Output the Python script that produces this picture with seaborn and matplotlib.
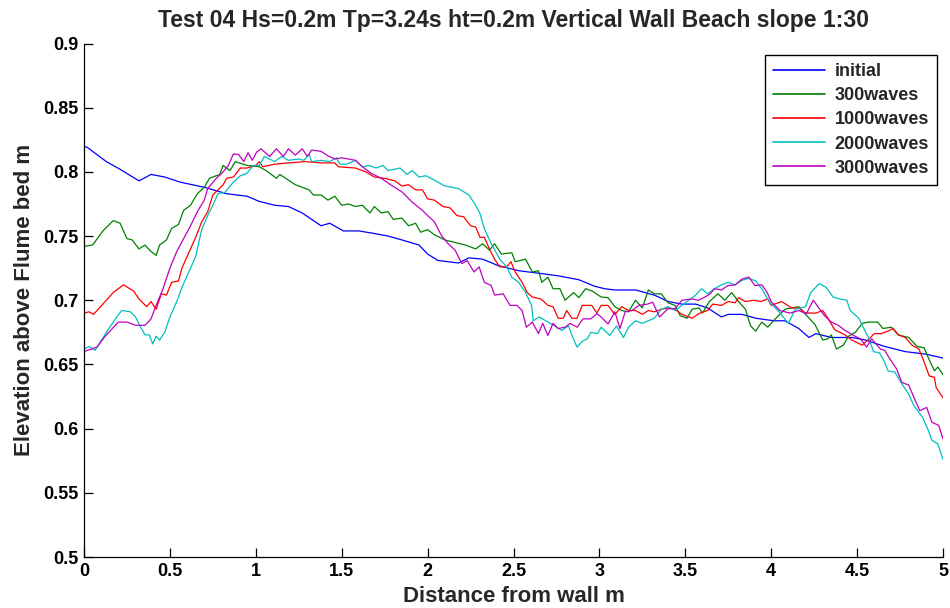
import matplotlib
matplotlib.use("Agg")
import matplotlib.pyplot as plt
import pandas as pd
import seaborn as sns

# ---------------- data ----------------
series_names = ["initial", "300waves", "1000waves", "2000waves", "3000waves"]
series_colors = ["#0000ff", "#008000", "#ff0000", "#00bfbf", "#bf00bf"]

x_ticks = [0, 0.5, 1, 1.5, 2, 2.5, 3, 3.5, 4, 4.5, 5]
x_tick_labels = ["0", "0.5", "1", "1.5", "2", "2.5", "3", "3.5", "4", "4.5", "5"]
y_ticks = [0.5, 0.55, 0.6, 0.65, 0.7, 0.75, 0.8, 0.85, 0.9]
y_tick_labels = ["0.5", "0.55", "0.6", "0.65", "0.7", "0.75", "0.8", "0.85", "0.9"]

initial_pts = [
    (0.00, 0.820), (0.02, 0.819), (0.13, 0.808), (0.21, 0.802), (0.32, 0.793),
    (0.39, 0.798), (0.47, 0.796), (0.56, 0.792), (0.70, 0.788), (0.83, 0.783),
    (0.95, 0.781), (1.02, 0.777), (1.11, 0.774), (1.19, 0.773), (1.27, 0.768),
    (1.38, 0.758), (1.43, 0.760), (1.51, 0.754), (1.60, 0.754), (1.69, 0.752),
    (1.77, 0.750), (1.85, 0.747), (1.95, 0.743), (2.00, 0.736), (2.06, 0.731),
    (2.18, 0.729), (2.24, 0.733), (2.32, 0.732), (2.41, 0.727), (2.53, 0.723),
    (2.65, 0.721), (2.76, 0.719), (2.88, 0.716), (2.97, 0.711), (3.03, 0.709),
    (3.09, 0.708), (3.21, 0.708), (3.32, 0.704), (3.40, 0.699), (3.48, 0.697),
    (3.56, 0.697), (3.63, 0.694), (3.71, 0.687), (3.75, 0.689), (3.83, 0.689),
    (3.91, 0.686), (3.96, 0.685), (4.02, 0.684), (4.08, 0.684), (4.16, 0.678),
    (4.22, 0.671), (4.26, 0.674), (4.35, 0.671), (4.47, 0.671), (4.55, 0.669),
    (4.66, 0.664), (4.78, 0.660), (4.90, 0.658), (5.00, 0.655),
]

waves300_pts = [
    (0.00, 0.742), (0.05, 0.743), (0.11, 0.754), (0.17, 0.762), (0.21, 0.760),
    (0.25, 0.748), (0.28, 0.747), (0.32, 0.740), (0.355, 0.743), (0.39, 0.738),
    (0.42, 0.735), (0.44, 0.743), (0.48, 0.747), (0.51, 0.756), (0.55, 0.759),
    (0.58, 0.770), (0.62, 0.774), (0.66, 0.783), (0.70, 0.788), (0.73, 0.795),
    (0.79, 0.798), (0.81, 0.805), (0.85, 0.801), (0.88, 0.808), (0.95, 0.805),
    (1.02, 0.804), (1.06, 0.801), (1.12, 0.795), (1.14, 0.798), (1.23, 0.790),
    (1.31, 0.786), (1.335, 0.782), (1.38, 0.782), (1.42, 0.778), (1.46, 0.781),
    (1.50, 0.774), (1.54, 0.775), (1.58, 0.773), (1.62, 0.774), (1.665, 0.768),
    (1.69, 0.773), (1.73, 0.768), (1.77, 0.769), (1.80, 0.763), (1.85, 0.764),
    (1.89, 0.758), (1.93, 0.760), (1.96, 0.753), (2.00, 0.755), (2.04, 0.751),
    (2.10, 0.747), (2.16, 0.745), (2.22, 0.743), (2.28, 0.740), (2.32, 0.744),
    (2.36, 0.739), (2.39, 0.744), (2.43, 0.736), (2.49, 0.737), (2.51, 0.730),
    (2.57, 0.732), (2.61, 0.722), (2.645, 0.723), (2.665, 0.714), (2.70, 0.718),
    (2.73, 0.709), (2.77, 0.709), (2.80, 0.700), (2.85, 0.706), (2.88, 0.702),
    (2.92, 0.709), (2.96, 0.707), (3.01, 0.7025), (3.05, 0.702), (3.09, 0.695),
    (3.13, 0.692), (3.17, 0.691), (3.21, 0.700), (3.25, 0.694), (3.285, 0.708),
    (3.32, 0.705), (3.36, 0.705), (3.40, 0.698), (3.44, 0.696), (3.47, 0.688),
    (3.51, 0.686), (3.54, 0.693), (3.58, 0.694), (3.60, 0.690), (3.64, 0.699),
    (3.69, 0.705), (3.73, 0.700), (3.77, 0.706), (3.81, 0.699), (3.85, 0.693),
    (3.88, 0.680), (3.91, 0.676), (3.945, 0.683), (3.98, 0.679), (4.02, 0.685),
    (4.08, 0.693), (4.12, 0.694), (4.16, 0.695), (4.20, 0.689), (4.255, 0.681),
    (4.30, 0.669), (4.33, 0.670), (4.35, 0.673), (4.38, 0.662), (4.42, 0.665),
    (4.45, 0.672), (4.49, 0.675), (4.53, 0.682), (4.565, 0.683), (4.62, 0.683),
    (4.65, 0.678), (4.70, 0.679), (4.74, 0.673), (4.80, 0.671), (4.85, 0.664),
    (4.89, 0.663), (4.915, 0.655), (4.95, 0.645), (4.97, 0.648), (5.00, 0.642),
]

waves1000_pts = [
    (0.00, 0.690), (0.03, 0.691), (0.055, 0.689), (0.11, 0.697), (0.17, 0.706),
    (0.23, 0.712), (0.29, 0.707), (0.32, 0.701), (0.365, 0.695), (0.39, 0.699),
    (0.42, 0.693), (0.45, 0.705), (0.48, 0.704), (0.51, 0.714), (0.55, 0.715),
    (0.57, 0.725), (0.61, 0.737), (0.65, 0.749), (0.685, 0.761), (0.72, 0.769),
    (0.75, 0.782), (0.78, 0.786), (0.81, 0.790), (0.83, 0.795), (0.87, 0.796),
    (0.91, 0.803), (0.95, 0.803), (1.00, 0.805), (1.02, 0.808), (1.04, 0.804),
    (1.11, 0.806), (1.19, 0.807), (1.29, 0.808), (1.38, 0.807), (1.46, 0.807),
    (1.48, 0.804), (1.58, 0.803), (1.64, 0.800), (1.69, 0.796), (1.75, 0.795),
    (1.81, 0.793), (1.85, 0.789), (1.89, 0.790), (1.93, 0.786), (1.97, 0.786),
    (2.00, 0.779), (2.04, 0.778), (2.09, 0.773), (2.13, 0.772), (2.17, 0.766),
    (2.21, 0.765), (2.25, 0.758), (2.28, 0.757), (2.305, 0.749), (2.33, 0.749),
    (2.36, 0.740), (2.39, 0.732), (2.42, 0.726), (2.46, 0.726), (2.485, 0.730),
    (2.51, 0.722), (2.55, 0.714), (2.58, 0.706), (2.61, 0.7025), (2.66, 0.701),
    (2.70, 0.696), (2.73, 0.695), (2.76, 0.686), (2.79, 0.686), (2.81, 0.692),
    (2.84, 0.686), (2.87, 0.686), (2.90, 0.696), (2.955, 0.696), (2.985, 0.690),
    (3.01, 0.696), (3.05, 0.696), (3.09, 0.689), (3.13, 0.695), (3.17, 0.692),
    (3.21, 0.692), (3.25, 0.689), (3.285, 0.692), (3.32, 0.691), (3.36, 0.693),
    (3.40, 0.694), (3.44, 0.693), (3.48, 0.689), (3.54, 0.686), (3.585, 0.690),
    (3.63, 0.692), (3.66, 0.697), (3.71, 0.696), (3.75, 0.699), (3.79, 0.698),
    (3.81, 0.702), (3.85, 0.699), (3.90, 0.700), (3.94, 0.699), (3.98, 0.701),
    (4.00, 0.696), (4.06, 0.699), (4.12, 0.694), (4.16, 0.694), (4.20, 0.690),
    (4.26, 0.690), (4.30, 0.692), (4.33, 0.686), (4.37, 0.677), (4.43, 0.673),
    (4.47, 0.669), (4.53, 0.665), (4.57, 0.670), (4.60, 0.674), (4.64, 0.674),
    (4.68, 0.676), (4.71, 0.678), (4.74, 0.673), (4.78, 0.671), (4.82, 0.665),
    (4.86, 0.662), (4.89, 0.652), (4.92, 0.641), (4.95, 0.640), (4.96, 0.632),
    (5.00, 0.624),
]

waves2000_pts = [
    (0.00, 0.662), (0.03, 0.664), (0.065, 0.661), (0.13, 0.675), (0.19, 0.687),
    (0.22, 0.692), (0.27, 0.691), (0.30, 0.687), (0.33, 0.679), (0.355, 0.673),
    (0.38, 0.673), (0.40, 0.666), (0.42, 0.672), (0.44, 0.669), (0.47, 0.675),
    (0.50, 0.687), (0.54, 0.699), (0.57, 0.710), (0.61, 0.722), (0.65, 0.734),
    (0.685, 0.755), (0.72, 0.766), (0.75, 0.774), (0.78, 0.783), (0.82, 0.784),
    (0.87, 0.792), (0.91, 0.797), (0.95, 0.799), (0.985, 0.805), (1.02, 0.805),
    (1.05, 0.812), (1.11, 0.808), (1.15, 0.812), (1.19, 0.809), (1.25, 0.810),
    (1.28, 0.809), (1.31, 0.814), (1.325, 0.808), (1.38, 0.809), (1.43, 0.808),
    (1.47, 0.811), (1.49, 0.806), (1.53, 0.806), (1.58, 0.809), (1.62, 0.804),
    (1.66, 0.805), (1.70, 0.803), (1.74, 0.805), (1.77, 0.801), (1.84, 0.803),
    (1.88, 0.798), (1.91, 0.801), (1.95, 0.796), (1.99, 0.797), (2.04, 0.7935),
    (2.10, 0.789), (2.18, 0.787), (2.24, 0.782), (2.28, 0.774), (2.305, 0.7675),
    (2.33, 0.756), (2.37, 0.744), (2.42, 0.732), (2.46, 0.726), (2.49, 0.718),
    (2.53, 0.714), (2.57, 0.706), (2.605, 0.696), (2.615, 0.684), (2.65, 0.687),
    (2.70, 0.683), (2.74, 0.680), (2.78, 0.6765), (2.82, 0.680), (2.84, 0.6726),
    (2.87, 0.6635), (2.90, 0.668), (2.93, 0.670), (2.95, 0.675), (2.99, 0.674),
    (3.01, 0.679), (3.06, 0.6726), (3.10, 0.680), (3.14, 0.671), (3.17, 0.679),
    (3.21, 0.684), (3.25, 0.682), (3.285, 0.684), (3.32, 0.686), (3.36, 0.693),
    (3.40, 0.695), (3.44, 0.692), (3.48, 0.696), (3.52, 0.700), (3.56, 0.704),
    (3.595, 0.709), (3.63, 0.705), (3.67, 0.709), (3.71, 0.712), (3.75, 0.714),
    (3.79, 0.712), (3.83, 0.7155), (3.87, 0.717), (3.91, 0.715), (3.945, 0.709),
    (3.98, 0.701), (4.00, 0.697), (4.04, 0.692), (4.10, 0.682), (4.14, 0.693),
    (4.20, 0.695), (4.23, 0.706), (4.28, 0.713), (4.32, 0.710), (4.36, 0.7025),
    (4.40, 0.701), (4.44, 0.700), (4.46, 0.692), (4.51, 0.686), (4.55, 0.675),
    (4.57, 0.670), (4.595, 0.660), (4.63, 0.659), (4.66, 0.652), (4.68, 0.645),
    (4.72, 0.644), (4.76, 0.635), (4.80, 0.627), (4.83, 0.618), (4.88, 0.609),
    (4.915, 0.5985), (4.935, 0.591), (4.97, 0.588), (5.00, 0.576),
]

waves3000_pts = [
    (0.00, 0.660), (0.02, 0.661), (0.075, 0.6635), (0.13, 0.673), (0.20, 0.683),
    (0.25, 0.683), (0.30, 0.6805), (0.355, 0.6805), (0.39, 0.6855), (0.42, 0.696),
    (0.46, 0.709), (0.50, 0.725), (0.54, 0.738), (0.58, 0.748), (0.62, 0.758),
    (0.66, 0.769), (0.70, 0.778), (0.72, 0.787), (0.77, 0.795), (0.81, 0.800),
    (0.84, 0.805), (0.87, 0.814), (0.90, 0.8135), (0.93, 0.808), (0.955, 0.815),
    (0.98, 0.809), (1.005, 0.8155), (1.03, 0.818), (1.08, 0.812), (1.12, 0.818),
    (1.16, 0.812), (1.19, 0.818), (1.23, 0.813), (1.27, 0.818), (1.30, 0.812),
    (1.325, 0.817), (1.38, 0.816), (1.42, 0.8125), (1.46, 0.810), (1.50, 0.811),
    (1.54, 0.810), (1.58, 0.809), (1.62, 0.804), (1.67, 0.799), (1.73, 0.795),
    (1.79, 0.7895), (1.85, 0.7845), (1.91, 0.7765), (1.97, 0.770), (2.00, 0.766),
    (2.04, 0.761), (2.08, 0.7505), (2.12, 0.744), (2.16, 0.739), (2.20, 0.7285),
    (2.23, 0.731), (2.27, 0.722), (2.30, 0.726), (2.33, 0.714), (2.37, 0.7115),
    (2.39, 0.704), (2.44, 0.705), (2.48, 0.696), (2.52, 0.696), (2.55, 0.692),
    (2.575, 0.679), (2.61, 0.683), (2.645, 0.674), (2.67, 0.682), (2.70, 0.6725),
    (2.73, 0.682), (2.76, 0.678), (2.80, 0.679), (2.83, 0.682), (2.87, 0.679),
    (2.905, 0.6855), (2.95, 0.6855), (2.985, 0.6895), (3.01, 0.687), (3.05, 0.6815),
    (3.09, 0.691), (3.12, 0.678), (3.15, 0.691), (3.19, 0.692), (3.23, 0.696),
    (3.28, 0.697), (3.31, 0.6985), (3.35, 0.687), (3.40, 0.6935), (3.44, 0.6935),
    (3.48, 0.700), (3.54, 0.701), (3.575, 0.700), (3.615, 0.7025), (3.645, 0.705),
    (3.67, 0.709), (3.71, 0.708), (3.75, 0.7115), (3.79, 0.712), (3.83, 0.7165),
    (3.87, 0.718), (3.905, 0.7115), (3.945, 0.712), (3.975, 0.7065), (4.00, 0.699),
    (4.05, 0.692), (4.11, 0.690), (4.16, 0.692), (4.205, 0.6895), (4.245, 0.700),
    (4.275, 0.6945), (4.31, 0.688), (4.35, 0.683), (4.39, 0.6805), (4.43, 0.6765),
    (4.48, 0.6725), (4.52, 0.670), (4.555, 0.6635), (4.585, 0.670), (4.635, 0.662),
    (4.66, 0.661), (4.69, 0.6545), (4.73, 0.6465), (4.76, 0.636), (4.80, 0.634),
    (4.835, 0.623), (4.865, 0.614), (4.905, 0.6165), (4.935, 0.605), (4.975, 0.6025),
    (5.00, 0.592),
]

title_text = "Test 04 Hs=0.2m Tp=3.24s ht=0.2m Vertical Wall Beach slope 1:30"
x_label = "Distance from wall m"
y_label = "Elevation above Flume bed m"

# ---------------- build long table ----------------
frames = []
for name, pts in zip(series_names,
                     [initial_pts, waves300_pts, waves1000_pts, waves2000_pts, waves3000_pts]):
    df = pd.DataFrame(pts, columns=["distance", "elevation"])
    df["series"] = name
    frames.append(df)
data = pd.concat(frames, ignore_index=True)

# ---------------- plot ----------------
sns.set_theme(style="ticks")
plt.rcParams["font.family"] = ["Liberation Sans", "DejaVu Sans"]
plt.rcParams["font.weight"] = "bold"

W, H = 950, 608
fig = plt.figure(figsize=(W / 100, H / 100), dpi=100)
fig.patch.set_facecolor("white")
ax_l, ax_r, ax_t, ax_b = 84, 943, 43.5, 557
ax = fig.add_axes([ax_l / W, 1 - ax_b / H, (ax_r - ax_l) / W, (ax_b - ax_t) / H])

sns.lineplot(data=data, x="distance", y="elevation", hue="series",
             hue_order=series_names, palette=dict(zip(series_names, series_colors)),
             units="series", estimator=None, sort=False, linewidth=0.9, ax=ax)

ax.set_xlim(0, 5)
ax.set_ylim(0.5, 0.9)
ax.set_xticks(x_ticks)
ax.set_xticklabels(x_tick_labels)
ax.set_yticks(y_ticks)
ax.set_yticklabels(y_tick_labels)
ax.tick_params(direction="in", length=6.2, width=0.9, colors="black",
               labelsize=13, pad=4)
for lab in ax.get_xticklabels() + ax.get_yticklabels():
    lab.set_fontweight("bold")

for side in ["top", "right"]:
    ax.spines[side].set_visible(False)
for side in ["left", "bottom"]:
    ax.spines[side].set_color("black")
    ax.spines[side].set_linewidth(0.9)

ax.set_xlabel(x_label, fontsize=16, fontweight="bold", labelpad=5)
ax.set_ylabel(y_label, fontsize=16, fontweight="bold", labelpad=6)
ax.set_title(title_text, fontsize=16.5, fontweight="bold", pad=12)

leg = ax.legend(loc="upper right", bbox_to_anchor=(0.993, 0.978), frameon=True,
                fancybox=False, edgecolor="black", framealpha=1, fontsize=13,
                handlelength=2.9, handletextpad=0.5, labelspacing=0.4,
                borderpad=0.45, borderaxespad=0)
leg.get_frame().set_linewidth(1.0)
for t in leg.get_texts():
    t.set_fontweight("bold")
for ln in leg.get_lines():
    ln.set_linewidth(1.2)

fig.savefig("out.png", dpi=100, facecolor="white")
